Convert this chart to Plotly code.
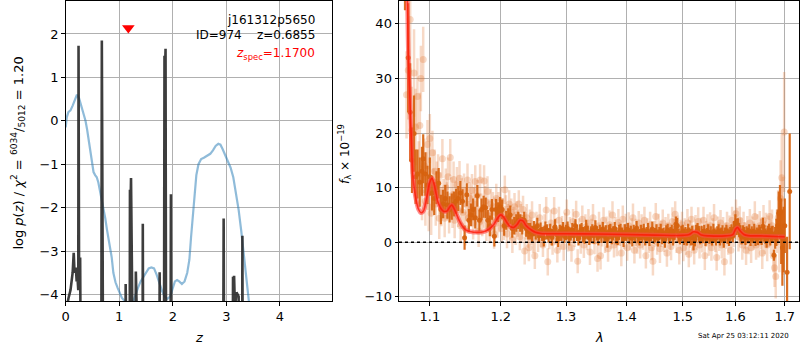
import plotly.graph_objects as go

# ---------------- left panel: p(z) ----------------
PZ_Z = [0.00, 0.02, 0.05, 0.09, 0.13, 0.15, 0.165, 0.18, 0.19, 0.205, 0.22, 0.235, 0.24, 0.25, 0.26, 0.27, 0.285, 0.30,
        0.66, 0.675, 0.69, 0.70, 0.71,
        1.11, 1.12, 1.13,
        1.19, 1.20, 1.21, 1.22, 1.235,
        1.29, 1.31, 1.325,
        1.43, 1.44, 1.455,
        1.74, 1.755, 1.77,
        1.83, 1.845, 1.855, 1.865, 1.88,
        1.95, 1.965, 1.98,
        2.93, 2.95, 2.97,
        3.11, 3.125, 3.135, 3.145, 3.16, 3.19, 3.205, 3.23, 3.25,
        3.29, 3.30, 3.315, 4.98]
PZ_LOGP = [-10, -4.3, -4.1, -3.9, -3.5, -3.04, -3.5, -3.45, -3.38, -3.7, -3.6, -3.9, 1.73, -3.7, -3.6, -3.15, -4.5, -10,
           -10, 1.85, -3.0, -3.55, -10,
           -10, -3.76, -10,
           -10, -1.59, -2.1, -1.32, -10,
           -10, -3.47, -10,
           -10, -2.37, -10,
           -10, -3.49, -10,
           -10, 1.50, 1.10, 1.66, -10,
           -10, -1.69, -10,
           -10, -2.25, -10,
           -10, -3.59, -4.0, -3.57, -4.3, -3.95, -4.0, -4.05, -10,
           -10, -2.65, -10, -10]

CHI_Z = [0.00, 0.02, 0.05, 0.09, 0.13, 0.17, 0.21, 0.25, 0.29, 0.33, 0.37, 0.40, 0.43, 0.46, 0.49, 0.52, 0.55, 0.58,
         0.61, 0.64, 0.675, 0.71, 0.74, 0.77, 0.80, 0.83, 0.86, 0.89, 0.93, 0.97, 1.01, 1.05, 1.10, 1.15, 1.20, 1.25,
         1.30, 1.35, 1.40, 1.45, 1.50, 1.55, 1.60, 1.65, 1.70, 1.75, 1.80, 1.85, 1.90, 1.95, 2.00, 2.04, 2.08, 2.12,
         2.17, 2.22, 2.27, 2.31, 2.34, 2.37, 2.40, 2.44, 2.48, 2.53, 2.58, 2.64, 2.70, 2.75, 2.80, 2.85, 2.89, 2.93,
         2.98, 3.03, 3.08, 3.13, 3.18, 3.23, 3.28, 3.33, 3.38, 3.42, 3.46]
CHI_V = [-0.15, 0.08, 0.20, 0.24, 0.35, 0.50, 0.60, 0.52, 0.35, 0.15, 0.00, -0.20, -0.45, -0.75, -1.02, -1.18, -1.25, -1.30,
         -1.42, -1.60, -1.80, -2.05, -2.25, -2.50, -2.72, -2.85, -3.15, -3.50, -3.72, -3.85, -3.95, -4.08, -4.15, -4.22, -4.30, -4.20,
         -4.00, -3.85, -3.70, -3.60, -3.48, -3.40, -3.38, -3.40, -3.55, -3.75, -3.92, -4.05, -4.10, -4.05, -3.85, -3.70, -3.67, -3.70,
         -3.76, -3.70, -3.50, -3.20, -2.70, -2.20, -1.70, -1.25, -1.00, -0.88, -0.85, -0.80, -0.76, -0.68, -0.58, -0.53, -0.55, -0.65,
         -0.80, -0.95, -1.08, -1.30, -1.65, -2.05, -2.55, -3.10, -3.65, -4.10, -4.60]

Z_SPEC = [1.17]
Z_SPEC_MARK = [2.14]

# ---------------- right panel: spectrum ----------------
DK_WAVE = [1.0670, 1.0712, 1.0738, 1.0762, 1.0789, 1.0810, 1.0835, 1.0865, 1.0895, 1.0911, 1.0940, 1.0968, 1.1000,
           1.1030, 1.1060, 1.1090, 1.1120, 1.1150, 1.1180, 1.1210, 1.1240, 1.1270, 1.1300, 1.1330, 1.1360, 1.1390,
           1.1420, 1.1450, 1.1479, 1.1510, 1.1540, 1.1570, 1.1600, 1.1630, 1.1660, 1.1690, 1.1720, 1.1750, 1.1780,
           1.1810, 1.1840, 1.1870, 1.1906, 1.1930, 1.1960, 1.1990, 1.2020, 1.2050, 1.2080, 1.2110, 1.2140, 1.2170,
           1.2200, 1.2230, 1.2260, 1.2290, 1.2320, 1.2350, 1.2380, 1.2410, 1.2440, 1.2470,
           1.2500, 1.2525, 1.2550, 1.2575, 1.2600, 1.2625, 1.2650, 1.2675, 1.2700, 1.2725,
           1.2750, 1.2775, 1.2800, 1.2825, 1.2850, 1.2875, 1.2900, 1.2925, 1.2950, 1.2975,
           1.3000, 1.3025, 1.3050, 1.3075, 1.3100, 1.3125, 1.3150, 1.3175, 1.3200, 1.3225,
           1.3250, 1.3275, 1.3300, 1.3325, 1.3350, 1.3375, 1.3400, 1.3425, 1.3450, 1.3475,
           1.3500, 1.3525, 1.3550, 1.3575, 1.3600, 1.3625, 1.3650, 1.3675, 1.3700, 1.3725,
           1.3750, 1.3775, 1.3800, 1.3825, 1.3850, 1.3875, 1.3900, 1.3925, 1.3950, 1.3975,
           1.4000, 1.4025, 1.4050, 1.4075, 1.4100, 1.4125, 1.4150, 1.4175, 1.4200, 1.4225,
           1.4250, 1.4275, 1.4300, 1.4325, 1.4350, 1.4375, 1.4400, 1.4425, 1.4450, 1.4475,
           1.4500, 1.4525, 1.4550, 1.4575, 1.4600, 1.4625, 1.4650, 1.4675, 1.4700, 1.4725,
           1.4750, 1.4775, 1.4800, 1.4825, 1.4850, 1.4875, 1.4900, 1.4925, 1.4950, 1.4975,
           1.5000, 1.5025, 1.5050, 1.5075, 1.5100, 1.5125, 1.5150, 1.5175, 1.5200, 1.5225,
           1.5250, 1.5275, 1.5300, 1.5325, 1.5350, 1.5375, 1.5400, 1.5425, 1.5450, 1.5475,
           1.5500, 1.5525, 1.5550, 1.5575, 1.5600, 1.5625, 1.5650, 1.5675, 1.5700, 1.5725,
           1.5750, 1.5775, 1.5800, 1.5825, 1.5850, 1.5875, 1.5900, 1.5925, 1.5950, 1.5975,
           1.6000, 1.6025, 1.6050, 1.6075, 1.6100, 1.6125, 1.6150, 1.6175, 1.6200, 1.6225,
           1.6250, 1.6275, 1.6300, 1.6325, 1.6350, 1.6375, 1.6400, 1.6425, 1.6450, 1.6475,
           1.6500, 1.6525, 1.6550, 1.6575, 1.6600, 1.6625, 1.6650, 1.6675, 1.6700, 1.6725,
           1.6750, 1.6775, 1.6800, 1.6825, 1.6850, 1.6875, 1.6900, 1.6925, 1.6950, 1.6975,
           1.7000, 1.7048, 1.7103]
DK_FLUX = [48.0, 33.8, 23.8, 15.0, 19.9, 12.0, 12.5, 11.0, 13.0, 15.3, 12.5, 10.5, 12.0,
           9.0, 8.0, 10.0, 10.8, 6.0, 7.0, 8.0, 6.8, 6.0, 6.5, 7.0, 7.5, 8.0,
           9.0, 7.5, 0.8, 8.7, 4.0, 5.0, 6.0, 4.5, 8.5, 4.0, 6.0, 6.5, 6.3,
           4.0, 3.0, 6.0, 1.1, 6.0, 5.5, 6.5, 6.0, 3.0, 4.0, 4.5, 5.0, 2.5,
           3.0, 3.5, 4.0, 3.5, 3.0, 4.0, 2.5, 2.0, 2.0, 1.5,
           2.5, 1.8, 3.0, 1.2, 2.2, 1.5, 0.8, 2.6, 1.9, 1.3,
           2.1, 0.9, 1.7, 2.8, 1.4, 0.6, 2.0, 1.6, 2.4, 1.1,
           1.8, 2.5, 0.9, 1.5, 2.2, 1.2, 3.0, 1.7, 0.7, 1.9,
           2.3, 1.4, 1.0, 2.6, 1.8, 0.8, 1.5, 2.1, 1.2, 2.7,
           1.6, 0.9, 2.0, 1.3, 2.4, 1.1, 1.7, 0.5, 1.9, 2.2,
           1.0, 1.6, 2.5, 1.2, 0.8, 1.8, 2.2, 1.4, 0.6, 1.9,
           1.5, 2.3, 1.0, 1.7, 0.7, 2.0, 1.3, 2.6, 1.1, 0.9,
           1.8, 1.2, 2.2, 0.8, 1.5, 2.0, 0.6, 1.4, 2.4, 1.0,
           1.3, 1.9, 0.7, 1.6, 2.1, 1.0, 1.4, 0.5, 1.8, 2.2,
           1.1, 1.5, 2.0, 0.9, 1.7, 3.3, 3.0, 1.2, 0.8, 1.6,
           1.9, 1.0, 1.4, 0.6, 2.1, 1.3, 0.9, 1.7, -0.1, 0.4,
           1.8, 2.2, 1.5, 0.8, 1.6, 1.1, 2.0, 0.7, 1.3, 1.8,
           1.0, 1.5, 0.6, 1.9, 1.2, 0.8, 1.6, 2.1, 0.9, 1.3,
           1.7, 0.5, 1.4, 2.0, 1.1, 0.8, 1.5, 1.9, 1.2, 2.4,
           3.5, 2.8, 3.0, 2.2, 1.6, 1.0, 1.8, 1.3, 0.9, 1.6,
           1.2, 2.0, 0.8, 1.5, 1.1, 1.9, 0.7, 1.4, 1.0, 1.8,
           1.3, 0.9, 2.9, 1.6, 1.1, 0.6, 1.5, 2.0, 1.0, 1.4,
           1.5, -2.4, 0.8, 1.8, 3.0, 5.3, 5.5, 2.0, -1.0, 0.5,
           3.0, -5.5, 9.3]
DK_ERR = [5.5, 10.0, 9.0, 6.0, 7.0, 5.0, 4.5, 4.5, 4.5, 4.5, 4.0, 3.5, 3.5,
          3.2, 3.0, 3.0, 2.8, 2.7, 2.6, 2.5, 2.5, 2.4, 2.4, 2.3, 2.3, 2.3,
          2.2, 2.2, 2.2, 2.1, 2.1, 2.1, 2.0, 2.0, 2.0, 2.0, 2.0, 2.0, 1.9,
          1.9, 1.9, 1.9, 1.9, 1.9, 1.8, 1.8, 1.8, 1.8, 1.7, 1.7, 1.7, 1.7,
          1.6, 1.6, 1.6, 1.6, 1.6, 1.6, 1.5, 1.5, 1.5, 1.5,
          1.4, 1.3, 1.5, 1.2, 1.4, 1.3, 1.6, 1.2, 1.4, 1.3,
          1.3, 1.5, 1.2, 1.4, 1.3, 1.5, 1.2, 1.4, 1.3, 1.2,
          1.4, 1.3, 1.5, 1.2, 1.3, 1.4, 1.2, 1.5, 1.3, 1.4,
          1.2, 1.4, 1.3, 1.5, 1.2, 1.3, 1.4, 1.2, 1.5, 1.3,
          1.3, 1.5, 1.2, 1.4, 1.3, 1.2, 1.4, 1.5, 1.3, 1.2,
          1.4, 1.3, 1.2, 1.5, 1.3, 1.4, 1.2, 1.3, 1.5, 1.4,
          1.3, 1.2, 1.4, 1.3, 1.5, 1.2, 1.4, 1.3, 1.2, 1.5,
          1.4, 1.3, 1.2, 1.4, 1.3, 1.5, 1.3, 1.2, 1.4, 1.3,
          1.3, 1.4, 1.5, 1.2, 1.3, 1.4, 1.2, 1.5, 1.3, 1.2,
          1.4, 1.3, 1.2, 1.5, 1.3, 1.4, 1.5, 1.3, 1.2, 1.4,
          1.3, 1.5, 1.4, 1.2, 1.3, 1.4, 1.5, 1.3, 1.4, 1.2,
          1.4, 1.3, 1.5, 1.2, 1.4, 1.3, 1.2, 1.4, 1.3, 1.5,
          1.3, 1.4, 1.2, 1.5, 1.3, 1.4, 1.3, 1.2, 1.5, 1.4,
          1.4, 1.5, 1.3, 1.2, 1.4, 1.5, 1.3, 1.4, 1.2, 1.5,
          1.6, 1.5, 1.4, 1.3, 1.5, 1.4, 1.3, 1.5, 1.4, 1.3,
          1.4, 1.3, 1.5, 1.4, 1.3, 1.5, 1.4, 1.3, 1.5, 1.4,
          1.5, 1.4, 1.6, 1.5, 1.4, 1.6, 1.5, 1.4, 1.6, 1.5,
          1.5, 1.0, 2.0, 2.5, 3.0, 4.0, 5.0, 6.0, 7.0, 6.0,
          5.0, 6.5, 10.6]

LT_WAVE = [1.0690, 1.0713, 1.0738, 1.0760, 1.0789, 1.0808, 1.0834, 1.0850, 1.0866, 1.0880, 1.0895, 1.0911, 1.0925, 1.0940,
           1.0955, 1.0968, 1.0985, 1.1000, 1.1018, 1.1035, 1.1050, 1.1065, 1.1080, 1.1095, 1.1112, 1.1128, 1.1142, 1.1157,
           1.1171, 1.1186, 1.1202, 1.1217, 1.1232, 1.1248, 1.1263, 1.1279, 1.1295, 1.1310, 1.1325, 1.1340, 1.1356, 1.1372,
           1.1388, 1.1408, 1.1424, 1.1440, 1.1456, 1.1472, 1.1488, 1.1504, 1.1520, 1.1536, 1.1552, 1.1568, 1.1584, 1.1600,
           1.1615, 1.1630, 1.1646, 1.1662, 1.1678, 1.1700, 1.1715, 1.1730, 1.1757, 1.1773, 1.1790, 1.1806, 1.1822, 1.1838,
           1.1854, 1.1870, 1.1886, 1.1902, 1.1918, 1.1934, 1.1950, 1.1966, 1.1982, 1.1998, 1.2014, 1.2030, 1.2046, 1.2060,
           1.2076, 1.2092, 1.2108, 1.2124, 1.2140, 1.2156, 1.2172, 1.2188, 1.2204, 1.2220, 1.2236, 1.2252, 1.2268, 1.2284,
           1.2300, 1.2316, 1.2332, 1.2357, 1.2373, 1.2389, 1.2405, 1.2421, 1.2437, 1.2453, 1.2469, 1.2485,
           1.2512, 1.2537, 1.2562, 1.2587, 1.2612, 1.2637, 1.2662, 1.2687, 1.2712, 1.2737,
           1.2762, 1.2787, 1.2812, 1.2837, 1.2862, 1.2887, 1.2912, 1.2937, 1.2962, 1.2987,
           1.3012, 1.3037, 1.3062, 1.3087, 1.3112, 1.3137, 1.3162, 1.3187, 1.3212, 1.3237,
           1.3262, 1.3287, 1.3312, 1.3337, 1.3362, 1.3387, 1.3412, 1.3437, 1.3462, 1.3487,
           1.3512, 1.3537, 1.3562, 1.3587, 1.3612, 1.3637, 1.3662, 1.3687, 1.3712, 1.3737,
           1.3762, 1.3787, 1.3812, 1.3837, 1.3862, 1.3887, 1.3912, 1.3937, 1.3962, 1.3987,
           1.4012, 1.4037, 1.4062, 1.4087, 1.4112, 1.4137, 1.4162, 1.4187, 1.4212, 1.4237,
           1.4262, 1.4287, 1.4312, 1.4337, 1.4362, 1.4387, 1.4412, 1.4437, 1.4462, 1.4487,
           1.4512, 1.4537, 1.4562, 1.4587, 1.4612, 1.4637, 1.4662, 1.4687, 1.4712, 1.4737,
           1.4762, 1.4787, 1.4812, 1.4837, 1.4862, 1.4887, 1.4912, 1.4937, 1.4962, 1.4987,
           1.5012, 1.5037, 1.5062, 1.5087, 1.5112, 1.5137, 1.5162, 1.5187, 1.5212, 1.5237,
           1.5262, 1.5287, 1.5312, 1.5337, 1.5362, 1.5387, 1.5412, 1.5437, 1.5462, 1.5487,
           1.5512, 1.5537, 1.5562, 1.5587, 1.5612, 1.5637, 1.5662, 1.5687, 1.5712, 1.5737,
           1.5762, 1.5787, 1.5812, 1.5837, 1.5862, 1.5887, 1.5912, 1.5937, 1.5962, 1.5987,
           1.6012, 1.6037, 1.6062, 1.6087, 1.6112, 1.6137, 1.6162, 1.6187, 1.6212, 1.6237,
           1.6262, 1.6287, 1.6312, 1.6337, 1.6362, 1.6387, 1.6412, 1.6437, 1.6462, 1.6487,
           1.6512, 1.6537, 1.6562, 1.6587, 1.6612, 1.6637, 1.6662, 1.6687, 1.6712, 1.6737,
           1.6762, 1.6787, 1.6812, 1.6837, 1.6862, 1.6887, 1.6912, 1.6937, 1.6962, 1.6987]
LT_FLUX = [27.0, 31.5, 40.8, 20.5, 31.0, 21.1, 26.7, 12.5, 21.4, 30.0, 9.0, 33.5, 14.0, 7.5,
           12.0, 17.9, 6.5, 19.0, 5.3, 16.4, 9.5, 13.0, 7.0, 11.0, 12.3, 4.4, 9.0, 6.5,
           15.3, 8.0, 4.4, 10.0, 7.5, 12.0, 5.0, 15.5, 8.5, 6.0, 11.5, 4.0, 8.0, 10.5,
           6.0, 11.7, 3.0, 8.5, 5.5, 9.5, 2.5, 7.0, 11.4, 4.5, 8.0, 6.0, 9.5, 3.5,
           7.0, 11.1, 5.0, 8.5, 2.0, 11.4, 6.0, 4.0, 11.2, 7.5, 3.0, 9.3, 5.0, 2.6,
           7.0, 4.0, 6.5, 1.5, 5.5, 8.0, 3.5, 6.5, 4.5, 7.5, 2.5, 5.5, 3.0, 9.6,
           6.0, 1.5, 4.5, 7.0, 3.0, 5.5, 0.5, 4.0, 6.5, 2.0, 5.0, 3.5, 7.0, 1.0,
           4.5, 2.5, 6.0, -1.6, 3.0, 4.5, 1.5, -1.0, 3.5, 2.0, 5.0, 0.5,
           -2.5, 3.0, 0.5, 4.5, 1.5, -0.5, 2.5, 5.9, -3.6, 1.0,
           3.5, 0.0, 5.7, 2.0, -1.5, 4.0, 1.0, 2.5, -0.8, 3.0,
           5.5, 0.8, 2.2, -1.0, 3.8, 1.5, 5.1, -3.5, 2.0, 0.5,
           4.2, -0.5, 2.8, 1.0, 3.5, -1.8, 2.0, 4.5, 0.2, 1.8,
           -3.0, 3.0, -2.5, 1.5, 4.0, 0.5, 2.5, -1.2, 3.2, 1.0,
           5.0, -0.5, 2.2, 0.0, 3.6, 1.5, -2.0, 4.2, 1.0, 2.8,
           -1.0, 3.0, 0.8, 2.0, 4.5, -1.5, 1.8, 0.2, 3.5, -0.5,
           2.5, 1.0, 4.0, -2.5, 2.0, 0.5, 3.2, -1.0, -3.5, 1.5,
           4.7, 0.0, 2.8, -1.2, 1.5, 3.5, 0.5, 2.2, -2.0, 3.0,
           1.0, -0.8, 3.8, 2.0, 5.1, 0.5, 2.5, -1.5, 1.8, 3.2,
           -1.0, 2.0, 0.0, 3.5, -2.2, 1.5, 4.2, 0.8, -1.5, 2.5,
           1.0, 3.8, -0.5, 2.2, 0.5, 4.0, -2.5, 1.5, 2.8, 0.0,
           3.0, -1.0, 1.8, 4.5, 0.5, -2.8, 2.2, 1.0, 3.5, -0.5,
           2.0, -3.6, 1.2, 3.0, 0.2, 2.5, -1.5, 4.0, 1.5, 3.2,
           5.2, 3.8, 1.0, 4.0, 2.0, -0.5, 3.0, 1.2, -1.5, 2.2,
           0.5, 3.5, -1.0, 2.0, 1.2, 4.7, -0.5, 2.5, 0.0, 3.0,
           1.5, -2.0, 4.0, 0.8, 2.5, -0.5, 2.0, 4.7, 1.0, 3.0,
           -2.5, -4.7, -6.3, 2.0, 4.5, 0.5, 8.0, 11.8, 3.0, 20.2]
LT_ERR = [8.0, 9.0, 10.0, 8.0, 8.0, 7.0, 7.0, 6.0, 6.0, 6.0, 5.0, 6.0, 5.0, 4.5,
          4.5, 4.5, 4.5, 4.5, 4.0, 4.0, 4.0, 4.0, 4.0, 3.8, 3.8, 3.8, 3.8, 3.6,
          3.6, 3.6, 3.5, 3.5, 3.5, 3.5, 3.4, 3.4, 3.4, 3.4, 3.3, 3.3, 3.3, 3.3,
          3.2, 3.2, 3.2, 3.2, 3.1, 3.1, 3.1, 3.1, 3.0, 3.0, 3.0, 3.0, 3.0, 3.0,
          3.0, 3.0, 2.9, 2.9, 2.9, 2.9, 2.9, 2.9, 2.9, 2.8, 2.8, 2.8, 2.8, 2.8,
          2.8, 2.8, 2.7, 2.7, 2.7, 2.7, 2.7, 2.7, 2.7, 2.6, 2.6, 2.6, 2.6, 2.6,
          2.6, 2.6, 2.5, 2.5, 2.5, 2.5, 2.5, 2.5, 2.5, 2.5, 2.5, 2.5, 2.5, 2.5,
          2.5, 2.5, 2.5, 2.5, 2.5, 2.5, 2.5, 2.5, 2.5, 2.5, 2.5, 2.5,
          2.4, 2.6, 2.3, 2.5, 2.4, 2.2, 2.6, 2.4, 2.5, 2.3,
          2.5, 2.3, 2.6, 2.4, 2.2, 2.5, 2.4, 2.3, 2.6, 2.4,
          2.3, 2.5, 2.4, 2.6, 2.3, 2.4, 2.5, 2.2, 2.4, 2.6,
          2.5, 2.4, 2.3, 2.5, 2.6, 2.4, 2.3, 2.5, 2.4, 2.2,
          2.4, 2.6, 2.5, 2.3, 2.4, 2.5, 2.2, 2.4, 2.6, 2.3,
          2.5, 2.3, 2.4, 2.6, 2.5, 2.2, 2.4, 2.5, 2.3, 2.4,
          2.4, 2.5, 2.3, 2.4, 2.6, 2.4, 2.5, 2.3, 2.2, 2.5,
          2.6, 2.4, 2.5, 2.3, 2.4, 2.5, 2.4, 2.3, 2.6, 2.4,
          2.5, 2.3, 2.4, 2.6, 2.4, 2.5, 2.3, 2.4, 2.5, 2.2,
          2.4, 2.5, 2.6, 2.3, 2.4, 2.5, 2.4, 2.6, 2.3, 2.4,
          2.5, 2.4, 2.3, 2.6, 2.4, 2.5, 2.3, 2.4, 2.6, 2.5,
          2.4, 2.6, 2.5, 2.3, 2.4, 2.5, 2.6, 2.4, 2.3, 2.5,
          2.5, 2.4, 2.6, 2.5, 2.3, 2.4, 2.5, 2.6, 2.4, 2.5,
          2.6, 2.5, 2.4, 2.6, 2.5, 2.4, 2.6, 2.5, 2.4, 2.6,
          2.6, 2.5, 2.7, 2.6, 2.5, 2.7, 2.6, 2.5, 2.7, 2.6,
          2.7, 2.6, 2.8, 2.7, 2.6, 2.8, 2.7, 2.6, 2.8, 2.7,
          2.8, 2.9, 2.8, 3.0, 2.9, 3.0, 2.9, 3.0, 3.1, 3.0,
          3.0, 3.5, 4.0, 4.0, 5.0, 6.0, 7.0, 8.0, 9.0, 11.0]

MODEL_WAVE = [1.0700, 1.0715, 1.0735, 1.0755, 1.0770, 1.0790, 1.0820, 1.0850, 1.0880, 1.0910, 1.0940, 1.0970,
              1.1000, 1.1030, 1.1060, 1.1090, 1.1120, 1.1160, 1.1200, 1.1240, 1.1270, 1.1300, 1.1330, 1.1370,
              1.1410, 1.1450, 1.1500, 1.1570, 1.1650, 1.1750, 1.1830, 1.1900, 1.1950, 1.2000, 1.2040, 1.2090,
              1.2140, 1.2190, 1.2240, 1.2290, 1.2330, 1.2380, 1.2450, 1.2520, 1.2600, 1.3000, 1.3500, 1.4000,
              1.4500, 1.5000, 1.5120, 1.5200, 1.5270, 1.5350, 1.5500, 1.5800, 1.5950, 1.6000, 1.6040, 1.6100,
              1.6170, 1.6250, 1.6500, 1.6800, 1.7000]
MODEL_FLUX = [46.0, 34.0, 26.0, 18.0, 13.0, 10.0, 7.5, 6.0, 5.4, 5.6, 7.0, 9.0,
              11.0, 11.7, 10.5, 8.5, 7.0, 6.0, 5.6, 5.8, 6.4, 6.8, 6.2, 5.0,
              3.8, 2.9, 2.2, 1.9, 1.8, 1.9, 2.4, 3.3, 4.3, 5.0, 4.6, 3.6,
              2.9, 2.7, 3.2, 4.0, 3.9, 3.0, 2.3, 1.8, 1.6, 1.55, 1.5, 1.4,
              1.3, 1.25, 1.4, 1.9, 1.8, 1.3, 1.15, 1.15, 1.4, 2.3, 2.7, 2.0,
              1.4, 1.2, 1.15, 1.05, 1.0]

LEFT_XTICKS = [0, 1, 2, 3, 4]
LEFT_XTICKTEXT = ["0", "1", "2", "3", "4"]
LEFT_YTICKS = [-4, -3, -2, -1, 0, 1, 2]
LEFT_YTICKTEXT = ["−4", "−3", "−2", "−1", "0", "1", "2"]
RIGHT_XTICKS = [1.1, 1.2, 1.3, 1.4, 1.5, 1.6, 1.7]
RIGHT_XTICKTEXT = ["1.1", "1.2", "1.3", "1.4", "1.5", "1.6", "1.7"]
RIGHT_YTICKS = [-10, 0, 10, 20, 30, 40]
RIGHT_YTICKTEXT = ["−10", "0", "10", "20", "30", "40"]

ORANGE = "rgba(214,98,14,0.92)"
ORANGE_LIGHT = "rgba(226,120,50,0.28)"
FONT = "DejaVu Sans"

fig = go.Figure()

# left panel
fig.add_trace(go.Scatter(x=CHI_Z, y=CHI_V, mode="lines", line=dict(color="rgba(31,119,180,0.5)", width=2.2),
                         xaxis="x", yaxis="y", hoverinfo="skip"))
fig.add_trace(go.Scatter(x=PZ_Z, y=PZ_LOGP, mode="lines", line=dict(color="rgba(40,40,40,0.9)", width=2.6),
                         xaxis="x", yaxis="y", hoverinfo="skip"))
fig.add_trace(go.Scatter(x=Z_SPEC, y=Z_SPEC_MARK, mode="markers",
                         marker=dict(symbol="triangle-down", color="red", size=11),
                         xaxis="x", yaxis="y", hoverinfo="skip", cliponaxis=False))

# right panel
fig.add_trace(go.Scatter(x=LT_WAVE, y=LT_FLUX, mode="markers",
                         marker=dict(color=ORANGE_LIGHT, size=7),
                         error_y=dict(type="data", array=LT_ERR, color=ORANGE_LIGHT, thickness=2.5, width=0),
                         xaxis="x2", yaxis="y2", hoverinfo="skip"))
fig.add_trace(go.Scatter(x=DK_WAVE, y=DK_FLUX, mode="markers",
                         marker=dict(color=ORANGE, size=5),
                         error_y=dict(type="data", array=DK_ERR, color=ORANGE, thickness=2.2, width=0),
                         xaxis="x2", yaxis="y2", hoverinfo="skip"))
fig.add_trace(go.Scatter(x=MODEL_WAVE, y=MODEL_FLUX, mode="lines",
                         line=dict(color="rgba(255,70,70,0.6)", width=4.5, shape="spline"),
                         xaxis="x2", yaxis="y2", hoverinfo="skip"))
fig.add_trace(go.Scatter(x=MODEL_WAVE, y=MODEL_FLUX, mode="lines",
                         line=dict(color="rgba(255,20,0,0.75)", width=1.6, shape="spline"),
                         xaxis="x2", yaxis="y2", hoverinfo="skip"))

fig.add_shape(type="line", xref="x2 domain", yref="y2", x0=0, x1=1, y0=0, y1=0,
              line=dict(color="black", width=1.6, dash="dot"), layer="above")

axis_common = dict(showline=True, linecolor="black", linewidth=1, mirror=True, ticks="outside", ticklen=3.5,
                   tickcolor="black", showgrid=True, gridcolor="#b0b0b0", gridwidth=1, zeroline=False,
                   tickfont=dict(family=FONT, size=13, color="black"))

Y_DOM = [46 / 350, 349 / 350]
fig.update_layout(
    width=800, height=350, margin=dict(l=0, r=0, t=0, b=0),
    paper_bgcolor="white", plot_bgcolor="white", showlegend=False,
    font=dict(family=FONT, size=13, color="black"),
    xaxis=dict(domain=[62 / 800, 330 / 800], range=[0, 4.98], tickvals=LEFT_XTICKS, ticktext=LEFT_XTICKTEXT,
               anchor="y", **axis_common),
    yaxis=dict(domain=Y_DOM, range=[-4.16, 2.76], tickvals=LEFT_YTICKS, ticktext=LEFT_YTICKTEXT,
               anchor="x", **axis_common),
    xaxis2=dict(domain=[397 / 800, 799 / 800], type="log", range=[0.02498, 0.23802], tickvals=RIGHT_XTICKS,
                ticktext=RIGHT_XTICKTEXT, anchor="y2", **axis_common),
    yaxis2=dict(domain=Y_DOM, range=[-10.85, 44.2], tickvals=RIGHT_YTICKS, ticktext=RIGHT_YTICKTEXT,
                anchor="x2", **axis_common),
)

ann = [
    dict(text="j161312p5650", x=315 / 800, y=1 - 20 / 350, xanchor="right", yanchor="middle", font=dict(size=12)),
    dict(text="ID=974&nbsp;&nbsp;&nbsp;&nbsp;z=0.6855", x=315 / 800, y=1 - 35 / 350, xanchor="right",
         yanchor="middle", font=dict(size=12)),
    dict(text="<i>z</i><sub>spec</sub>=1.1700", x=315 / 800, y=1 - 54 / 350, xanchor="right", yanchor="middle",
         font=dict(size=12, color="red")),
    dict(text="log <i>p</i>(<i>z</i>) / <i>χ</i><sup>2</sup> = <sup>6034</sup>/<sub>5012</sub> = 1.20",
         x=14 / 800, y=1 - 154 / 350, textangle=-90, xanchor="center", yanchor="middle", font=dict(size=13)),
    dict(text="<i>z</i>", x=196 / 800, y=1 - 340 / 350, xanchor="center", yanchor="middle", font=dict(size=13)),
    dict(text="<i>f</i><sub>λ</sub> × 10<sup>−19</sup>", x=342 / 800, y=1 - 155 / 350, textangle=-90,
         xanchor="center", yanchor="middle", font=dict(size=12)),
    dict(text="<i>λ</i>", x=598 / 800, y=1 - 340 / 350, xanchor="center", yanchor="middle", font=dict(size=13)),
    dict(text="Sat Apr 25 03:12:11 2020", x=743 / 800, y=1 - 339 / 350, xanchor="center", yanchor="middle",
         font=dict(size=7)),
]
for a in ann:
    a.update(xref="paper", yref="paper", showarrow=False)
    fig.add_annotation(**a)

fig.write_html("out.html")
